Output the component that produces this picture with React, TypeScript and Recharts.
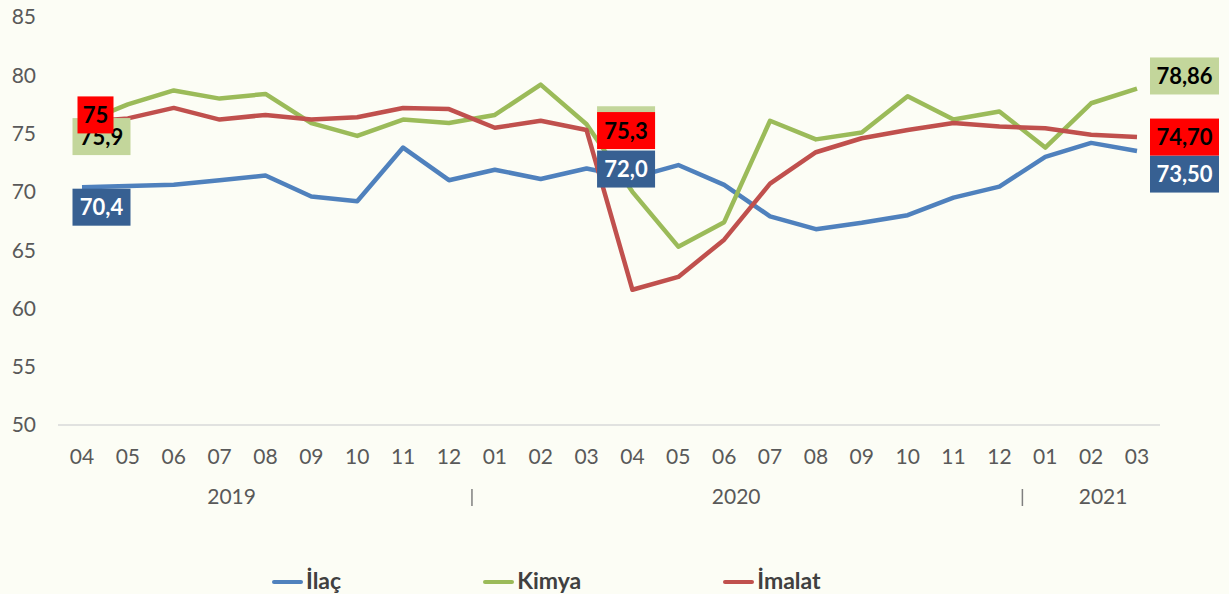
import React from 'react';
import { LineChart, Line, XAxis, YAxis, LabelList } from 'recharts';

// months from 2019-04 to 2021-03
const months = ['04', '05', '06', '07', '08', '09', '10', '11', '12', '01', '02', '03',
  '04', '05', '06', '07', '08', '09', '10', '11', '12', '01', '02', '03'];

const ilac = [70.4, 70.5, 70.6, 71.0, 71.4, 69.6, 69.2, 73.8, 71.0, 71.9, 71.1, 72.0,
  71.2, 72.3, 70.6, 67.9, 66.8, 67.35, 68.0, 69.5, 70.45, 73.0, 74.2, 73.5];
const kimya = [75.9, 77.5, 78.7, 78.0, 78.4, 75.9, 74.8, 76.2, 75.9, 76.6, 79.2, 75.8,
  70.0, 65.3, 67.4, 76.1, 74.5, 75.1, 78.2, 76.2, 76.9, 73.8, 77.6, 78.86];
const imalat = [76.0, 76.3, 77.2, 76.2, 76.6, 76.2, 76.4, 77.2, 77.1, 75.5, 76.1, 75.3,
  61.6, 62.7, 65.9, 70.7, 73.4, 74.6, 75.3, 75.9, 75.6, 75.45, 74.9, 74.7];

const yTicks = [50, 55, 60, 65, 70, 75, 80, 85];

const yearLabels: Record<number, string> = { 3: '2019', 14: '2020', 22: '2021' };
const yearBreaks = [8, 20];

const ilacLabels: Record<number, string> = { 0: '70,4', 11: '72,0', 23: '73,50' };
const kimyaLabels: Record<number, string> = { 0: '75,9', 11: '75,8', 23: '78,86' };
const imalatLabels: Record<number, string> = { 0: '75', 11: '75,3', 23: '74,70' };

const data = months.map((m, i) => ({ month: m, ilac: ilac[i], kimya: kimya[i], imalat: imalat[i] }));

// label box centre offsets from the point (dx, dy)
const ilacOffsets: Record<number, [number, number]> = { 0: [19.5, 20], 11: [39.5, 0.5], 23: [47.5, 23] };
const kimyaOffsets: Record<number, [number, number]> = { 0: [19.5, 13.5], 11: [39.5, 0.5], 23: [47.5, -12.6] };
const imalatOffsets: Record<number, [number, number]> = { 0: [13.5, -7], 11: [39.5, 0.5], 23: [47.5, 0] };
// labels whose text sits fully under another box in the original
const kimyaHidden = [11];

const FONT = 'Lato, "Open Sans", sans-serif';

const series = [
  { key: 'ilac', name: 'İlaç', color: '#4F81BD' },
  { key: 'kimya', name: 'Kimya', color: '#9BBB59' },
  { key: 'imalat', name: 'İmalat', color: '#C0504D' },
];

const makeLabel = (
  texts: Record<number, string>,
  offsets: Record<number, [number, number]>,
  fill: string,
  color: string,
  hidden: number[] = []
) => (props: any) => {
  const { x, y, index } = props;
  const text = texts[index];
  if (!text) return null;
  const [dx, dy] = offsets[index];
  const w = text.length * 11 + 14;
  const h = 37;
  const cx = x + dx;
  const cy = y + dy;
  return (
    <g>
      <rect x={cx - w / 2} y={cy - h / 2} width={w} height={h} fill={fill} />
      {!hidden.includes(index) && (
        <text x={cx} y={cy + 8} textAnchor="middle" fill={color} fontSize={22}
          fontWeight="bold" fontFamily={FONT}>{text}</text>
      )}
    </g>
  );
};

const MonthTick = (props: any) => {
  const { x, y, payload } = props;
  const i = payload.index;
  return (
    <g>
      <text x={x} y={y + 39} textAnchor="middle" fill="#595959" fontSize={21} fontFamily={FONT}>
        {payload.value}
      </text>
      {yearLabels[i] && (
        <text x={x + 12} y={y + 79} textAnchor="middle" fill="#595959" fontSize={21} fontFamily={FONT}>
          {yearLabels[i]}
        </text>
      )}
      {yearBreaks.includes(i) && (
        <line x1={x + 23} x2={x + 23} y1={y + 64} y2={y + 81} stroke="#7F7F7F" strokeWidth={1.5} />
      )}
    </g>
  );
};

export default function App() {
  return (
    <div style={{ position: 'absolute', left: 0, top: 0, width: 1229, height: 594, background: '#FCFDF5' }}>
      <LineChart width={1229} height={594} data={data}
        margin={{ top: 17, right: 69, left: 0, bottom: 69 }}>
        <XAxis dataKey="month" interval={0} height={100} padding={{ left: 24, right: 23 }}
          axisLine={{ stroke: '#D9D9D9', strokeWidth: 1.5 }} tickLine={false} tickSize={0}
          tickMargin={0} tick={<MonthTick />} />
        <YAxis domain={[50, 85]} ticks={yTicks} width={58} axisLine={false} tickLine={false}
          tickSize={0} tickMargin={22}
          tick={{ fill: '#595959', fontSize: 21, fontFamily: FONT }} />
        {series.map((s) => (
          <Line key={s.key} dataKey={s.key} name={s.name} stroke={s.color} strokeWidth={4.5}
            strokeLinejoin="round" dot={false} activeDot={false} isAnimationActive={false} />
        ))}
        <Line dataKey="ilac" stroke="none" dot={false} activeDot={false} legendType="none" isAnimationActive={false}>
          <LabelList dataKey="ilac" content={makeLabel(ilacLabels, ilacOffsets, '#376092', '#FFFFFF')} />
        </Line>
        <Line dataKey="kimya" stroke="none" dot={false} activeDot={false} legendType="none" isAnimationActive={false}>
          <LabelList dataKey="kimya" content={makeLabel(kimyaLabels, kimyaOffsets, '#C3D69B', '#000000', kimyaHidden)} />
        </Line>
        <Line dataKey="imalat" stroke="none" dot={false} activeDot={false} legendType="none" isAnimationActive={false}>
          <LabelList dataKey="imalat" content={makeLabel(imalatLabels, imalatOffsets, '#FF0000', '#000000')} />
        </Line>
      </LineChart>
      <div style={{ position: 'absolute', left: 272, top: 564, display: 'flex', gap: 142, alignItems: 'center',
        fontFamily: FONT, fontWeight: 'bold', fontSize: 23, color: '#404040', lineHeight: '32px' }}>
        {series.map((s) => (
          <div key={s.key} style={{ display: 'flex', alignItems: 'center' }}>
            <span style={{ display: 'inline-block', width: 31, height: 4.5, borderRadius: 3,
              background: s.color, marginRight: 3, marginTop: 4 }} />
            <span>{s.name}</span>
          </div>
        ))}
      </div>
    </div>
  );
}
